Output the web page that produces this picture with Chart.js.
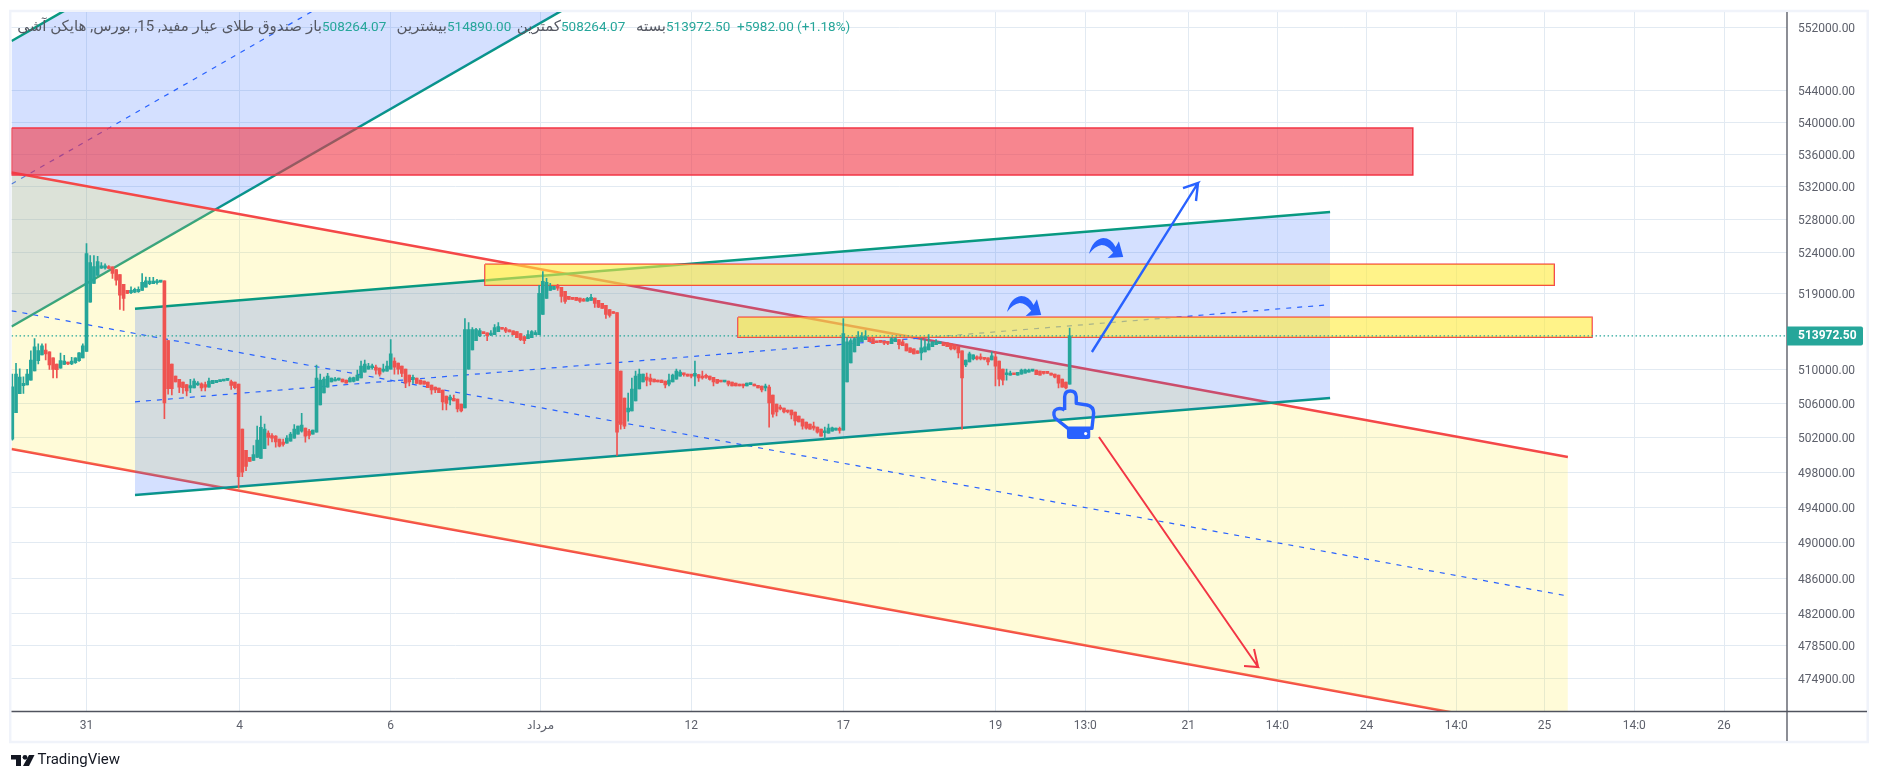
<!DOCTYPE html>
<html>
<head>
<meta charset="utf-8">
<title>صندوق طلای عیار مفید</title>
<style>
  html, body { margin: 0; padding: 0; background: #ffffff; }
  canvas { display: block; }
</style>
<script src="https://cdn.jsdelivr.net/npm/chart.js@4/dist/chart.umd.js"></script>
</head>
<body>
<canvas id="chart" width="1879" height="781"></canvas>
<script>
/* =========================================================
   DATA
========================================================= */

const opens = [
  501850,504930,507150,508090,508170,508750,509840,511040,511720,512280,
  512080,511360,510640,510160,510600,510880,510640,510800,511040,511360,
  512120,518000,520240,521200,522080,522120,522280,522240,521920,521320,
  520120,519400,519120,519200,519240,519400,519800,520200,520200,520320,
  520400,520560,513400,510640,509220,508830,508520,508210,507820,507820,
  508170,508320,508210,507930,508320,508440,508560,508640,508720,508560,
  508520,508280,503020,500560,499740,499390,499740,499630,500760,502550,
  502280,502200,501850,501500,501380,501620,501970,502430,502790,503140,
  502790,502430,502670,505830,507230,507930,508520,508640,508750,508870,
  508750,508520,508600,508710,508990,509690,510040,510200,510280,510160,
  509800,509800,510040,511000,510760,510400,510040,509340,508830,508990,
  508750,508640,508520,508170,507930,507820,507580,506880,506410,506610,
  506530,505940,505480,510040,512320,513400,513960,514320,514320,514080,
  514120,514480,514840,514840,514680,514560,514480,514240,513880,513640,
  513760,514120,514120,516520,518440,519400,519520,519760,519760,519280,
  518680,518560,518560,518480,518320,518120,518200,518480,518200,517840,
  517600,517120,516880,516760,509800,506650,505010,505130,506300,507700,
  508520,509100,508990,508870,508750,508750,508640,508280,508520,508870,
  509220,509450,509450,509410,509220,509410,509220,509180,509220,509060,
  508830,508640,508520,508640,508520,508400,508280,508170,508050,508210,
  508280,508130,508050,507820,507930,507000,505940,505480,505480,505240,
  505240,505010,504540,504190,503840,503600,503370,503250,503020,502590,
  502550,502790,502900,503100,502900,508520,510760,512080,512800,513280,
  513520,513760,513640,513360,513360,513280,513160,513040,513280,513520,
  513280,513040,512560,512440,512200,511960,512080,512320,512680,512920,
  513040,513160,513160,513040,512920,512680,512200,510520,510880,511240,
  511480,511480,511400,511360,511120,511480,511000,510040,509380,509340,
  509530,509340,509450,509570,509690,509800,509920,509800,509610,509610,
  509570,509450,509340,508870,508520,508264.07
];

const highs = [
  509450,510720,510080,509140,510000,512200,513640,513040,513040,513040,
  512080,511360,510640,511920,511680,510880,511440,511360,512000,513040,
  525040,523600,523600,523520,522760,522600,522400,522240,521920,521320,
  520120,519400,519840,519680,519840,521440,521000,520960,520960,520720,
  520560,520560,513400,510640,509220,508830,508520,508210,508830,508910,
  508560,508440,508520,508990,508720,508720,508750,508790,508770,508750,
  508520,508280,503020,500560,499740,501110,503370,504540,503600,502820,
  502510,502280,501850,501850,502280,502630,503530,503370,504850,503140,
  502980,502900,510520,509450,509100,509530,508990,509060,508990,508870,
  508750,509100,509100,509920,511000,511120,510720,510640,510520,510160,
  510640,511000,513520,511360,510760,510400,510040,509340,509340,508990,
  508750,508640,508520,508170,507930,507820,507580,506880,507000,507000,
  506530,505940,516040,515560,514960,514880,514840,514320,514320,514600,
  515320,515560,514960,515000,514680,514560,514480,514240,513880,514600,
  514600,514600,520000,521680,520840,520240,519880,520120,519760,519280,
  518680,518560,518560,518480,518440,518560,518920,518480,518200,517840,
  517600,517120,516880,516760,509800,506650,507230,508990,509800,510040,
  509450,509570,509450,508870,508750,508750,508640,509450,509450,510040,
  509920,509570,509450,509410,511000,509410,509800,509450,509220,509060,
  508830,508640,508640,508640,508520,508400,508280,508280,508400,508400,
  508280,508130,508050,508280,508170,507000,505940,505830,505480,505240,
  505240,505010,504540,504190,503840,503600,503840,503250,503020,503250,
  503600,503250,503140,503250,516040,513760,513640,513760,514480,514360,
  514600,513760,513640,513360,513360,513320,513160,513760,513760,513520,
  513520,513040,512560,512440,512200,513640,513520,514120,513280,513520,
  513280,513160,513160,513040,512920,512680,512200,511120,512040,511720,
  511600,511840,511400,511360,512080,512080,511000,510040,510040,509800,
  509530,509650,510040,510040,510040,509880,509920,509800,509690,509610,
  509570,509450,509340,508870,508520,514890
];

const lows = [
  501730,504930,507150,507190,508170,508750,509840,510640,511720,511120,
  510000,508990,508990,510160,510560,510560,510560,510720,510960,511360,
  512120,518000,520240,521200,522040,521960,522000,520840,520040,517120,
  517000,519000,519000,519120,519160,519400,519800,520080,520200,520160,
  520400,504230,507110,507000,508520,507270,507190,506880,507270,507820,
  508130,507470,507470,507930,508320,508440,508560,508640,508720,507660,
  507700,496190,497520,498220,499280,499390,499740,499630,500760,501150,
  501540,500910,500950,501030,501380,501620,501970,502430,502670,501500,
  501890,502430,502670,505830,507230,507930,508520,508640,508750,508520,
  508400,508520,508520,508710,508990,509690,510040,510040,509450,509220,
  509690,509800,510040,509450,509450,509140,507860,508050,508360,508360,
  508280,508280,507860,507110,507270,507270,505240,505240,505830,506300,
  505010,505010,505480,510040,512320,513400,513880,514240,513400,514000,
  514120,514480,514760,514360,514440,514080,513760,513400,513040,513640,
  513760,514120,514120,516520,518440,519400,519520,519400,518000,517840,
  518320,518320,518200,517960,518120,518120,518200,517360,517320,517240,
  516040,516200,516640,499980,503020,503060,503950,505130,506300,507700,
  508520,508050,508170,508520,508520,508440,507820,508050,508520,508870,
  509220,509220,509220,508990,508050,508600,508870,508950,508750,508050,
  508360,508520,508520,508050,508050,508050,508050,507820,508050,508210,
  508050,507820,507350,507470,503250,504420,504540,505240,504890,504890,
  504190,503490,503840,503020,503020,503020,502900,502550,502200,501850,
  502550,502790,502900,502550,502900,508520,510760,512080,512800,513280,
  513520,513280,513040,513160,513200,512920,512920,513040,513280,512440,
  512800,512200,512000,511840,511880,511120,512080,512320,512680,512920,
  513040,512800,512680,512320,512320,511360,503020,510320,510880,511120,
  511120,511120,511120,510520,511120,508050,508050,508170,508750,509340,
  509380,509340,509450,509570,509690,509800,509380,509340,509450,509530,
  509340,508990,507820,507930,507700,508264.07
];

const closes = [
  507970,509450,509100,508360,509450,511120,512680,512240,512800,511840,
  510520,510000,509960,511040,511000,510640,511000,511360,511960,512800,
  523840,522760,522280,522880,522360,522320,522040,521440,520640,518840,
  518440,519040,519400,519520,519520,520360,520560,520520,520520,520480,
  520560,506060,507740,507740,508520,507930,507860,507470,508090,508640,
  508400,507820,507930,508640,508720,508720,508750,508790,508770,508130,
  507860,497520,498030,498690,499280,500060,501730,503210,503020,502040,
  501970,501540,501030,501230,501970,502430,503020,503370,503490,502200,
  502280,502900,508990,508750,508870,509220,508990,508870,508830,508520,
  508400,508990,509030,509340,510400,510640,510400,510400,509920,509450,
  510040,510400,511840,510280,510040,509530,508400,508520,509030,508360,
  508280,508280,507860,507580,507580,507270,506180,506020,506760,506300,
  505360,505130,514720,514720,514720,514720,514600,514240,514000,514240,
  514960,515080,514760,514520,514440,514120,513760,513520,513400,514120,
  514480,514360,519040,520480,520360,519880,519880,519680,518680,518080,
  518320,518320,518200,518120,518120,518440,518560,517840,517400,517240,
  516520,516400,516640,502670,503560,503370,505480,507700,509220,509450,
  509450,508750,508600,508520,508520,508440,508170,508750,509340,509800,
  509690,509380,509220,509220,509530,508990,508990,509060,508830,508520,
  508400,508520,508640,508280,508050,508050,508050,508050,508400,508280,
  508050,507820,507580,507890,506060,504770,505010,505360,505010,505010,
  504660,503960,503840,503370,503140,503020,503140,502670,502200,502670,
  503140,503180,503140,502860,514240,513280,513400,513640,513840,513880,
  513880,513280,513040,513160,513200,513120,513080,513640,513640,512920,
  512800,512200,512000,511840,511880,512560,512680,513040,513280,513280,
  513280,512800,512680,512440,512440,511960,508990,511120,511840,511720,
  511240,511240,511200,510880,511600,510400,508870,508750,509450,509570,
  509380,509650,509920,509960,509920,509880,509380,509340,509530,509530,
  509340,509100,508400,507930,507820,513972.5
];

const priceTicks = [
  552000, 544000, 540000, 536000, 532000, 528000, 524000, 519000, 510000,
  506000, 502000, 498000, 494000, 490000, 486000, 482000, 478500, 474900
];
const timeTicks = [20, 61.3, 102, 142.4, 183, 224, 265, 289.2, 317, 341, 365, 389.2, 413, 437.2, 461.4];
const timeLabels = ["31", "4", "6", "مرداد", "12", "17", "19", "13:0", "21", "14:0", "24", "14:0", "25", "14:0", "26"];

const lastPrice = 513972.5;

// drawings, as [bar, price]
const risingTop = [[-0.2, 550217], [151.7, 592860]];
const risingMid = [[-0.2, 532330], [151.7, 573680]];
const risingBottom = [[-0.2, 515085], [151.7, 555070]];

const fallingTop = [[-0.2, 533745], [419.3, 499780]];
const fallingMid = [[-0.2, 516960], [418.2, 484070]];
const fallingBottom = [[-0.2, 500710], [419.3, 468840]];

const innerTop = [[33.07, 517210], [355.2, 528900]];
const innerMid = [[33.07, 506200], [354.1, 517650]];
const innerBottom = [[33.07, 495410], [355.2, 506640]];

const redZone = { from: -0.2, to: 377.5, top: 539265, bottom: 533440 };
const upperZone = { from: 127.4, to: 415.6, top: 522545, bottom: 520010 };
const lowerZone = { from: 195.6, to: 425.8, top: 516190, bottom: 513800 };

const upArrow = [[291, 512060], [319.6, 532450], [315.55, 531835], [319.6, 532450], [319.06, 530245]];
const downArrow = [[292.9, 502100], [335.8, 476110], [332, 476220], [335.8, 476110], [334.7, 478090]];

const curvedArrowAnchors = [[268.1, 518725], [290.2, 525730]];
const handAnchor = [280.5, 507465];

/* =========================================================
   STYLE
========================================================= */

const GREEN = "#26a69a";
const RED = "#ef5350";
const TEAL_LINE = "#089981";
const RED_LINE = "#f44848";
const ZONE_LINE = "#f23645";
const BLUE_LINE = "#2962ff";
const BLUE_FILL = "rgba(41,98,255,0.2)";
const YELLOW_FILL = "rgba(255,235,59,0.2)";
const GRID = "#e2eaf2";
const AXIS_LINE = "#50535e";
const TEXT = "#5d606b";
const FONT = 'Roboto, "DejaVu Sans", sans-serif';

/* =========================================================
   DATASETS
========================================================= */

function toXY(points) {
  return points.map(([x, y]) => ({ x, y }));
}

function lineSet(points, color, width, order, extra = {}) {
  return Object.assign({
    type: "line",
    data: toXY(points),
    borderColor: color,
    borderWidth: width,
    pointRadius: 0,
    fill: false,
    tension: 0,
    order
  }, extra);
}

function zoneSets(zone, fillColor, order) {
  const { from, to, top, bottom } = zone;
  return [
    lineSet([[from, top], [to, top]], "rgba(0,0,0,0)", 0, order, {
      fill: { value: bottom },
      backgroundColor: fillColor
    }),
    lineSet([[from, top], [to, top], [to, bottom], [from, bottom], [from, top]], ZONE_LINE, 1.5, order)
  ];
}

const candleColor = (i) => (closes[i] >= opens[i] ? GREEN : RED);
const candleIndex = closes.map((_, i) => i);

const datasets = [
  // top left channel
  lineSet(risingTop, TEAL_LINE, 2.5, 40, { fill: "+1", backgroundColor: BLUE_FILL }),
  lineSet(risingBottom, TEAL_LINE, 2.5, 40),
  lineSet(risingMid, BLUE_LINE, 1.2, 39, { borderDash: [5, 6] }),

  // falling channel
  lineSet(fallingTop, RED_LINE, 2.5, 30, { fill: "+1", backgroundColor: YELLOW_FILL }),
  lineSet(fallingBottom, RED_LINE, 2.5, 30),
  lineSet(fallingMid, BLUE_LINE, 1.2, 29, { borderDash: [5, 6] }),

  // inner rising channel
  lineSet(innerTop, TEAL_LINE, 2.5, 20, { fill: "+1", backgroundColor: BLUE_FILL }),
  lineSet(innerBottom, TEAL_LINE, 2.5, 20),
  lineSet(innerMid, BLUE_LINE, 1.2, 19, { borderDash: [5, 6] }),

  // zones
  ...zoneSets(redZone, "rgba(242,54,69,0.6)", 10),
  ...zoneSets(upperZone, "rgba(255,235,59,0.6)", 9),
  ...zoneSets(lowerZone, "rgba(255,235,59,0.6)", 9),

  lineSet([[-0.2, lastPrice], [478.4, lastPrice]], GREEN, 1.2, 5, { borderDash: [1.5, 2.5] }),

  // candles
  {
    type: "bar",
    data: candleIndex.map((i) => ({ x: i, y: [lows[i], highs[i]] })),
    backgroundColor: candleIndex.map(candleColor),
    barThickness: 1,
    grouped: false,
    order: 2
  },
  {
    type: "bar",
    data: candleIndex.map((i) => ({ x: i, y: [opens[i], closes[i]] })),
    backgroundColor: candleIndex.map(candleColor),
    barThickness: 3,
    minBarLength: 2,
    grouped: false,
    order: 1
  },

  // arrows on top of everything
  lineSet(upArrow, BLUE_LINE, 2.4, 0),
  lineSet(downArrow, ZONE_LINE, 2, 0)
];

/* =========================================================
   PLUGINS
========================================================= */

// Frame round the whole widget and the two axis lines
const framePlugin = {
  id: "frame",
  beforeDraw(chart) {
    const { ctx } = chart;
    ctx.save();
    ctx.fillStyle = "#ffffff";
    ctx.fillRect(0, 0, chart.width, chart.height);
    ctx.strokeStyle = "#f0f3fa";
    ctx.lineWidth = 2.5;
    ctx.strokeRect(10.2, 11, 1857.5, 731);
    ctx.restore();
  },
  afterDatasetsDraw(chart) {
    const { ctx, chartArea } = chart;
    ctx.save();
    ctx.strokeStyle = AXIS_LINE;
    ctx.lineWidth = 1.3;
    ctx.beginPath();
    ctx.moveTo(chartArea.left, chartArea.bottom);
    ctx.lineTo(1867, chartArea.bottom);
    ctx.moveTo(chartArea.right, chartArea.top);
    ctx.lineTo(chartArea.right, 741);
    ctx.stroke();
    ctx.restore();
  }
};

function drawCurvedArrow(ctx, x, y) {
  ctx.save();
  ctx.translate(x, y);
  ctx.fillStyle = BLUE_LINE;
  ctx.beginPath();
  ctx.moveTo(0, 16);
  ctx.quadraticCurveTo(4, 1, 14.3, 0);
  ctx.quadraticCurveTo(22, 0, 26.7, 9);
  ctx.lineTo(30, 3.3);
  ctx.lineTo(34.3, 19);
  ctx.lineTo(18.7, 20);
  ctx.lineTo(24.3, 14.7);
  ctx.quadraticCurveTo(19, 7, 12.7, 7);
  ctx.quadraticCurveTo(6, 8, 0, 16);
  ctx.closePath();
  ctx.fill();
  ctx.restore();
}

function drawHand(ctx, x, y) {
  ctx.save();
  ctx.translate(x, y);
  ctx.strokeStyle = BLUE_LINE;
  ctx.fillStyle = BLUE_LINE;
  ctx.lineWidth = 3.4;
  ctx.lineJoin = "round";
  ctx.beginPath();
  ctx.moveTo(11.7, 19);
  ctx.lineTo(11.7, 5.7);
  ctx.quadraticCurveTo(12, 0, 17.3, 0);
  ctx.quadraticCurveTo(23, 0, 23.3, 5.7);
  ctx.lineTo(23.3, 12.3);
  ctx.lineTo(34, 14);
  ctx.quadraticCurveTo(40.7, 15.5, 40.7, 22);
  ctx.lineTo(39, 37.3);
  ctx.lineTo(15, 37.3);
  ctx.lineTo(2, 27);
  ctx.quadraticCurveTo(-1, 20, 4, 18);
  ctx.quadraticCurveTo(8, 16.5, 11.7, 19);
  ctx.stroke();
  ctx.beginPath();
  ctx.roundRect(14, 37, 23.3, 11, 2.5);
  ctx.fill();
  ctx.fillStyle = "#ffffff";
  ctx.beginPath();
  ctx.arc(32.7, 42.6, 1.6, 0, Math.PI * 2);
  ctx.fill();
  ctx.restore();
}

// Icons are anchored through the scales so they stay on their bar/price
const iconsPlugin = {
  id: "icons",
  afterDatasetsDraw(chart) {
    const { ctx, scales } = chart;
    curvedArrowAnchors.forEach(([bar, price]) => {
      drawCurvedArrow(ctx, scales.x.getPixelForValue(bar), scales.y.getPixelForValue(price));
    });
    drawHand(ctx, scales.x.getPixelForValue(handAnchor[0]), scales.y.getPixelForValue(handAnchor[1]));
  }
};

function headerText(ctx, text, x, color, align) {
  ctx.fillStyle = color;
  ctx.textAlign = align;
  ctx.fillText(text, x, 27.5);
}

// Legend strip, last price tag and footer logo
const headerPlugin = {
  id: "header",
  afterDraw(chart) {
    const { ctx, scales, chartArea } = chart;
    const value = "#26a69a";
    const label = "#555862";

    ctx.save();
    ctx.textBaseline = "middle";
    ctx.font = `15px ${FONT}`;
    ctx.direction = "rtl";
    headerText(ctx, "صندوق طلای عیار مفید, 15, بورس, هایکن آشی", 302, label, "right");
    headerText(ctx, "باز", 322, label, "right");
    headerText(ctx, "بیشترین", 447, label, "right");
    headerText(ctx, "کمترین", 561, label, "right");
    headerText(ctx, "بسته", 666, label, "right");
    ctx.direction = "ltr";
    ctx.font = `13.5px ${FONT}`;
    headerText(ctx, "508264.07", 322, value, "left");
    headerText(ctx, "514890.00", 447, value, "left");
    headerText(ctx, "508264.07", 561, value, "left");
    headerText(ctx, "513972.50", 666, value, "left");
    headerText(ctx, "+5982.00 (+1.18%)", 737, value, "left");

    // last price tag
    const y = scales.y.getPixelForValue(lastPrice);
    ctx.fillStyle = GREEN;
    ctx.beginPath();
    ctx.roundRect(chartArea.right, y - 9.5, 76, 19, [0, 2, 2, 0]);
    ctx.fill();
    ctx.fillStyle = "#ffffff";
    ctx.font = `bold 12px ${FONT}`;
    ctx.textAlign = "left";
    ctx.fillText(lastPrice.toFixed(2), 1798, y + 0.5);

    // footer
    ctx.fillStyle = "#131722";
    ctx.beginPath();
    ctx.moveTo(11, 755);
    ctx.lineTo(21, 755);
    ctx.lineTo(21, 766);
    ctx.lineTo(16, 766);
    ctx.lineTo(16, 759.5);
    ctx.lineTo(11, 759.5);
    ctx.closePath();
    ctx.fill();
    ctx.beginPath();
    ctx.arc(25, 757.3, 2.4, 0, Math.PI * 2);
    ctx.fill();
    ctx.beginPath();
    ctx.moveTo(29, 755);
    ctx.lineTo(34.5, 755);
    ctx.lineTo(29, 766);
    ctx.lineTo(23, 766);
    ctx.closePath();
    ctx.fill();
    ctx.font = `15px ${FONT}`;
    ctx.fillText("TradingView", 37.5, 760.5);
    ctx.restore();
  }
};

/* =========================================================
   CHART
========================================================= */

new Chart(document.getElementById("chart"), {
  type: "bar",
  data: { datasets },
  plugins: [framePlugin, iconsPlugin, headerPlugin],
  options: {
    responsive: false,
    animation: false,
    devicePixelRatio: 1,
    layout: { padding: { left: 11.5, top: 12, right: 0, bottom: 0 } },
    plugins: { legend: { display: false }, tooltip: { enabled: false } },
    scales: {
      x: {
        type: "linear",
        offset: false,   // bar charts default this to true
        min: -0.216,
        max: 478.36,
        afterBuildTicks(scale) {
          scale.ticks = timeTicks.map((value) => ({ value }));
        },
        afterFit(scale) {
          scale.height = 69.5;
          scale.paddingLeft = 0;
          scale.paddingRight = 0;
        },
        ticks: {
          autoSkip: false,
          maxRotation: 0,
          padding: 7,
          color: TEXT,
          font: { family: FONT, size: 12 },
          callback: (value) => timeLabels[timeTicks.indexOf(value)]
        },
        grid: { color: GRID, tickLength: 0, offset: false },
        border: { display: false }
      },
      y: {
        type: "logarithmic",
        position: "right",
        min: 471240,
        max: 553917,
        afterBuildTicks(scale) {
          scale.ticks = priceTicks.map((value) => ({ value }));
        },
        afterFit(scale) {
          scale.width = 92;
          scale.paddingTop = 0;
          scale.paddingBottom = 0;
        },
        ticks: {
          autoSkip: false,
          padding: 11,
          labelOffset: 1.5,
          color: TEXT,
          font: { family: FONT, size: 12 },
          callback: (value) => Number(value).toFixed(2)
        },
        grid: { color: GRID, tickLength: 0 },
        border: { display: false }
      }
    }
  }
});
</script>
</body>
</html>
